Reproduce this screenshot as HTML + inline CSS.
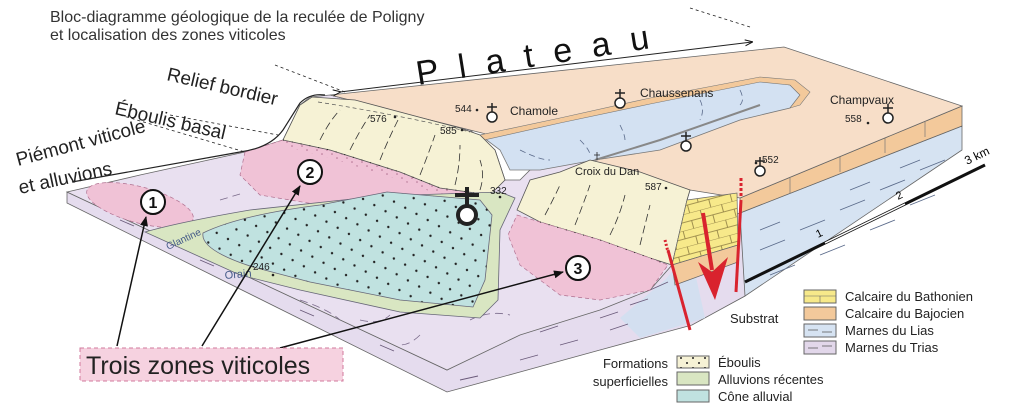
<!DOCTYPE html>
<html><head><meta charset="utf-8"><style>
html,body{margin:0;padding:0;background:#fff;}
svg{display:block;font-family:"Liberation Sans",sans-serif;}
</style></head><body>
<svg width="1024" height="417" viewBox="0 0 1024 417" xmlns="http://www.w3.org/2000/svg">
<defs>
<marker id="ah" markerWidth="10" markerHeight="10" refX="9" refY="5" orient="auto" markerUnits="userSpaceOnUse"><path d="M0,1 L10,5 L0,9 Z" fill="#111"/></marker>
<marker id="as" markerWidth="8" markerHeight="8" refX="7" refY="4" orient="auto" markerUnits="userSpaceOnUse"><path d="M0,1 L8,4 L0,7" fill="none" stroke="#111" stroke-width="1"/></marker>
<pattern id="dots" width="20" height="16" patternUnits="userSpaceOnUse" patternTransform="rotate(-10)"><circle cx="3" cy="3" r="1.2" fill="#222"/><circle cx="13" cy="11" r="1.2" fill="#222"/></pattern>
<pattern id="ldots" width="12" height="10" patternUnits="userSpaceOnUse"><circle cx="3" cy="3" r="1" fill="#222"/><circle cx="9" cy="8" r="1" fill="#222"/></pattern>
<pattern id="pdots" width="10" height="8" patternUnits="userSpaceOnUse"><circle cx="2" cy="2" r="0.8" fill="#b07090"/><circle cx="7" cy="6" r="0.8" fill="#b07090"/></pattern>
<pattern id="brick" width="22" height="16" patternUnits="userSpaceOnUse" patternTransform="rotate(-15)"><rect width="22" height="16" fill="#f7e98a"/><path d="M0,0 H22 M0,8 H22 M6,0 V8 M17,8 V16" stroke="#8a7a40" stroke-width="0.8"/></pattern>
</defs>

<text x="50" y="22" font-size="16" fill="#333">Bloc-diagramme géologique de la reculée de Poligny</text>
<text x="50" y="40" font-size="16" fill="#333">et localisation des zones viticoles</text>

<!-- right blue side face -->
<polygon points="740,213 962,126 962,150 745,296 700,320" fill="#d6e3f2" stroke="#666" stroke-width="0.8"/>
<path d="M760,250 l25,-10 M800,230 l25,-10 M840,210 l25,-10 M880,190 l25,-10 M920,170 l25,-10 M770,275 l25,-10 M820,255 l25,-10 M870,230 l25,-10 M910,205 l25,-10 M760,230 l20,-8 M850,190 l20,-8 M900,168 l20,-8" stroke="#5a6a8a" stroke-width="0.9"/>
<polygon points="740,198 962,106 962,126 740,213" fill="#f3c99b" stroke="#666" stroke-width="0.8"/>
<path d="M790,178 v15 M840,157 v15 M885,138 v15 M925,122 v15" stroke="#777" stroke-width="0.7"/>

<!-- front face -->
<polygon points="67,192 67,203 447,392 520,372 600,350 692,325 745,296 740,213 690,230 660,265 600,300 520,330 447,370" fill="#e5dcee" stroke="#666" stroke-width="0.8"/>
<polygon points="620,318 665,280 690,250 705,318 640,338" fill="#d3dff0"/>
<path d="M120,220 l14,6 M200,260 l14,6 M300,310 l14,6 M380,345 l14,6 M460,380 l18,-4 M520,360 l18,-5 M560,345 l18,-5 M610,330 l18,-6 M630,305 l18,-6 M650,290 l18,-8 M600,318 l18,-6 M540,332 l18,-6" stroke="#6a5a7a" stroke-width="0.9"/>

<!-- top surface -->
<path d="M67,192 L140,175 L245,152 L283,140 L300,105 L310,97 L330,95 L470,130 L495,150 L505,180 L520,180 L530,170 L590,160 L690,190 L687,200 L672,265 L650,290 L600,310 L520,335 L447,370 Z" fill="#e9e0f0" stroke="#666" stroke-width="0.8"/>
<path d="M300,300 q30,10 40,20 M360,320 q20,5 30,-5 M420,335 q-10,10 -20,10 M470,320 q20,-10 40,-5 M220,200 l20,-6 M260,195 l20,-6" stroke="#7a6a8a" stroke-width="0.8" stroke-dasharray="8,5" fill="none"/>

<!-- plateau -->
<polygon points="330,95 784,47 962,106 740,198 690,190 590,160 470,130" fill="#f7dec8" stroke="#666" stroke-width="0.8"/>
<path d="M480,135 L560,120 L650,100 L760,80 L790,85 L800,95 L790,108 L740,120 L660,150 L595,160 L540,170 L510,170 L500,150 Z" fill="#d3e1f2" stroke="#777" stroke-width="0.8"/>
<path d="M480,135 L560,118 L650,98 L760,77 L795,80 L810,92 L800,105 L790,108 L800,95 L790,85 L760,82 L650,104 L560,123 L484,140 Z" fill="#f3c99b" stroke="#777" stroke-width="0.6"/>
<path d="M595,160 L660,140 L760,105" stroke="#888" stroke-width="2" fill="none"/>
<path d="M520,150 q20,10 30,10 M580,140 q10,10 10,15 M620,125 q5,10 5,15 M700,100 q5,10 0,20 M740,90 q5,10 0,15" stroke="#5a6a8a" stroke-width="0.8" stroke-dasharray="6,4" fill="none"/>

<!-- pink zone 2 -->
<path d="M245,152 L283,140 L330,150 L400,172 L440,188 L490,195 L470,210 L350,210 L260,195 L240,175 Z" fill="#f0c2d6" stroke="#b07090" stroke-width="0.7" stroke-dasharray="4,3"/>
<path d="M283,140 L330,150 L400,172 L440,188 L490,195 L485,200 L440,195 L400,180 L330,158 L283,146 Z" fill="url(#pdots)"/>
<ellipse cx="140" cy="205" rx="55" ry="18" fill="#f0c2d6" stroke="#b07090" stroke-width="0.7" stroke-dasharray="4,3" transform="rotate(15 140 205)"/>
<!-- relief bordier -->
<path d="M283,140 L300,105 L312,97 L355,100 L460,128 L480,135 L495,150 L505,180 L490,195 L440,188 L400,172 L330,150 Z" fill="#f6f2d5" stroke="#555" stroke-width="0.8"/>
<path d="M283,140 L330,150 L400,172 L440,188 L490,195" stroke="#222" stroke-width="1" fill="none" stroke-dasharray="1,8"/>
<path d="M320,140 q10,-20 20,-30 M350,150 q10,-20 20,-35 M380,160 q8,-20 18,-40 M420,175 q8,-20 15,-40 M455,185 q5,-20 5,-40 M480,190 q5,-15 0,-30" stroke="#333" stroke-width="0.8" stroke-dasharray="8,4" fill="none"/>
<path d="M318,102 Q400,115 470,132" stroke="#555" stroke-width="0.7" stroke-dasharray="4,3" fill="none"/>
<!-- right hill -->
<path d="M517,210 L530,180 L560,172 L590,160 L640,172 L690,190 L687,200 L672,265 L650,258 L600,240 L540,222 Z" fill="#f6f2d5" stroke="#555" stroke-width="0.8"/>
<path d="M517,215 L540,222 L600,240 L650,258 L668,265 L650,290 L600,300 L560,295 L520,265 L508,235 Z" fill="#f0c2d6" stroke="#b07090" stroke-width="0.7" stroke-dasharray="4,3"/>
<path d="M540,222 L600,240 L650,258 L668,265" stroke="#222" stroke-width="1" fill="none" stroke-dasharray="1,8"/>
<path d="M545,215 q8,-15 15,-30 M575,225 q8,-20 15,-40 M610,235 q10,-20 15,-40 M640,245 q5,-20 10,-40" stroke="#333" stroke-width="0.8" stroke-dasharray="8,4" fill="none"/>
<!-- Bathonien -->
<path d="M687,200 L737,193 L738,245 L672,265 Z" fill="url(#brick)" stroke="#666" stroke-width="0.7"/>
<path d="M672,265 L738,245 L738,262 L675,285 Z" fill="#f3c99b" stroke="#666" stroke-width="0.7"/>

<!-- alluvions -->
<path d="M145,232 Q180,222 250,210 L380,196 L500,192 L515,198 L500,230 L498,300 L480,318 L400,312 L300,290 L240,275 Z" fill="#d9e6c2" stroke="#667" stroke-width="0.8"/>
<path d="M203,233 Q240,215 320,205 L387,192 L480,200 L492,215 L485,280 L473,307 L400,300 L310,282 L253,267 Q200,250 203,233 Z" fill="#c0e2e0" stroke="#667" stroke-width="0.8"/>
<path d="M203,233 Q240,215 320,205 L387,192 L480,200 L492,215 L485,280 L473,307 L400,300 L310,282 L253,267 Q200,250 203,233 Z" fill="url(#dots)"/>
<text x="168" y="250" font-size="10" fill="#445a88" transform="rotate(-25 168 250)">Glantine</text>
<text x="225" y="279" font-size="11" fill="#445a88" transform="rotate(-5 225 279)">Orain</text>

<!-- outline and labels -->
<path d="M72,182 L240,152 Q270,148 283,130 L300,103 Q310,93 325,95" stroke="#222" stroke-width="1.2" fill="none"/>
<path d="M340,92 L752,42" stroke="#222" stroke-width="1" marker-end="url(#as)" marker-start="url(#as)"/>
<path d="M690,8 L750,27" stroke="#222" stroke-width="0.8" stroke-dasharray="3,3"/>
<path d="M275,65 L345,92" stroke="#222" stroke-width="0.8" stroke-dasharray="3,3"/>
<path d="M170,115 L278,135" stroke="#222" stroke-width="0.8" stroke-dasharray="3,3"/>
<path d="M120,115 L245,152" stroke="#222" stroke-width="0.8" stroke-dasharray="3,3"/>

<text x="418" y="85" font-size="34" fill="#111" letter-spacing="20" transform="rotate(-9 418 85)">Plateau</text>
<text x="166" y="80" font-size="19" fill="#222" transform="rotate(13 166 80)">Relief bordier</text>
<text x="114" y="114" font-size="19" fill="#222" transform="rotate(13 114 114)">Éboulis basal</text>
<text x="18" y="166" font-size="19" fill="#222" transform="rotate(-15 18 166)">Piémont viticole</text>
<text x="20" y="194" font-size="19" fill="#222" transform="rotate(-12 20 194)">et alluvions</text>

<g font-size="10" fill="#222">
<text x="455" y="112">544</text><circle cx="477" cy="110" r="1.3" fill="#222"/>
<text x="510" y="115" font-size="12">Chamole</text>
<text x="640" y="97" font-size="12">Chaussenans</text>
<text x="830" y="104" font-size="12">Champvaux</text>
<text x="845" y="122">558</text><circle cx="868" cy="123" r="1.3" fill="#222"/>
<text x="575" y="175" font-size="11">Croix du Dan</text>
<text x="762" y="163">552</text><circle cx="756" cy="163" r="1.3" fill="#222"/>
<text x="370" y="122">576</text><circle cx="395" cy="117" r="1.3" fill="#222"/>
<text x="440" y="134">585</text><circle cx="462" cy="130" r="1.3" fill="#222"/>
<text x="645" y="190">587</text><circle cx="666" cy="188" r="1.3" fill="#222"/>
<text x="490" y="194">332</text><circle cx="500" cy="197" r="1.3" fill="#222"/>
<text x="253" y="270">246</text><circle cx="273" cy="275" r="1.3" fill="#222"/>
</g>
<g stroke="#222" stroke-width="1.5" fill="#fff">
<g transform="translate(492,111)"><circle cx="0" cy="6" r="5"/><path d="M0,1 V-8 M-5,-4 H5"/></g>
<g transform="translate(620,97)"><circle cx="0" cy="6" r="5"/><path d="M0,1 V-8 M-5,-4 H5"/></g>
<g transform="translate(888,112)"><circle cx="0" cy="6" r="5"/><path d="M0,1 V-8 M-5,-4 H5"/></g>
<g transform="translate(686,140)"><circle cx="0" cy="6" r="5"/><path d="M0,1 V-8 M-5,-4 H5"/></g>
<g transform="translate(760,165)"><circle cx="0" cy="6" r="5"/><path d="M0,1 V-8 M-5,-4 H5"/></g>
<g transform="translate(467,205)" stroke-width="4"><circle cx="0" cy="10" r="9"/><path d="M0,1 V-18 M-12,-10 H12"/></g>
</g>
<path d="M597,152 v8 M594,155 h6" stroke="#222" stroke-width="0.8"/>

<!-- faults -->
<path d="M668,250 L690,330" stroke="#d9232e" stroke-width="3"/>
<path d="M665,240 L668,252" stroke="#d9232e" stroke-width="3" stroke-dasharray="2,2"/>
<path d="M741,200 L736,292" stroke="#d9232e" stroke-width="3"/>
<path d="M741,178 L741,198" stroke="#d9232e" stroke-width="3" stroke-dasharray="3,2"/>
<path d="M703,213 L712,270" stroke="#d9232e" stroke-width="4"/>
<path d="M698,262 L715,300 L728,257 L712,272 Z" fill="#d9232e"/>

<!-- scale -->
<path d="M745,282 L985,165" stroke="#111" stroke-width="3"/>
<path d="M825,243 L905,204" stroke="#fff" stroke-width="1.5"/>
<text x="818" y="238" font-size="11" transform="rotate(-26 818 238)">1</text>
<text x="898" y="200" font-size="11" transform="rotate(-26 898 200)">2</text>
<text x="967" y="165" font-size="12" transform="rotate(-26 967 165)">3 km</text>

<g stroke="#111" stroke-width="2" fill="#fff">
<circle cx="153" cy="202" r="12"/><circle cx="310" cy="172" r="12"/><circle cx="578" cy="268" r="12"/>
</g>
<g font-size="16" font-weight="bold" fill="#111" text-anchor="middle">
<text x="153" y="208">1</text><text x="310" y="178">2</text><text x="578" y="274">3</text>
</g>
<path d="M117,346 L146,217" stroke="#111" stroke-width="1.5" marker-end="url(#ah)"/>
<path d="M202,346 L300,186" stroke="#111" stroke-width="1.5" marker-end="url(#ah)"/>
<path d="M280,348 L563,272" stroke="#111" stroke-width="1.5" marker-end="url(#ah)"/>

<rect x="80" y="348" width="263" height="33" fill="#f6d2e0" stroke="#d27a9c" stroke-dasharray="4,3"/>
<text x="86" y="374" font-size="25" fill="#222">Trois zones viticoles</text>

<g font-size="13" fill="#222">
<text x="730" y="323">Substrat</text>
<rect x="804" y="290" width="32" height="13" fill="#f7e98a" stroke="#666"/><path d="M820,296 v7 M804,296 h32" stroke="#666" stroke-width="0.6"/>
<rect x="804" y="307" width="32" height="13" fill="#f3c99b" stroke="#666"/>
<rect x="804" y="324" width="32" height="13" fill="#d6e3f2" stroke="#666"/><path d="M808,330 h10 M822,332 h10" stroke="#555" stroke-width="0.7"/>
<rect x="804" y="341" width="32" height="13" fill="#e2d7ea" stroke="#666"/><path d="M808,348 h10 M822,346 h10" stroke="#555" stroke-width="0.7"/>
<text x="845" y="301">Calcaire du Bathonien</text>
<text x="845" y="318">Calcaire du Bajocien</text>
<text x="845" y="335">Marnes du Lias</text>
<text x="845" y="352">Marnes du Trias</text>
<text x="668" y="368" text-anchor="end">Formations</text>
<text x="668" y="386" text-anchor="end">superficielles</text>
<rect x="677" y="356" width="32" height="12" fill="#f6f2d5" stroke="#666"/><rect x="677" y="356" width="32" height="12" fill="url(#ldots)"/>
<rect x="677" y="372" width="32" height="13" fill="#d9e6c2" stroke="#666"/>
<rect x="677" y="390" width="32" height="12" fill="#c0e2e0" stroke="#666"/>
<text x="718" y="367">Éboulis</text>
<text x="718" y="384">Alluvions récentes</text>
<text x="718" y="401">Cône alluvial</text>
</g>
</svg>
</body></html>
